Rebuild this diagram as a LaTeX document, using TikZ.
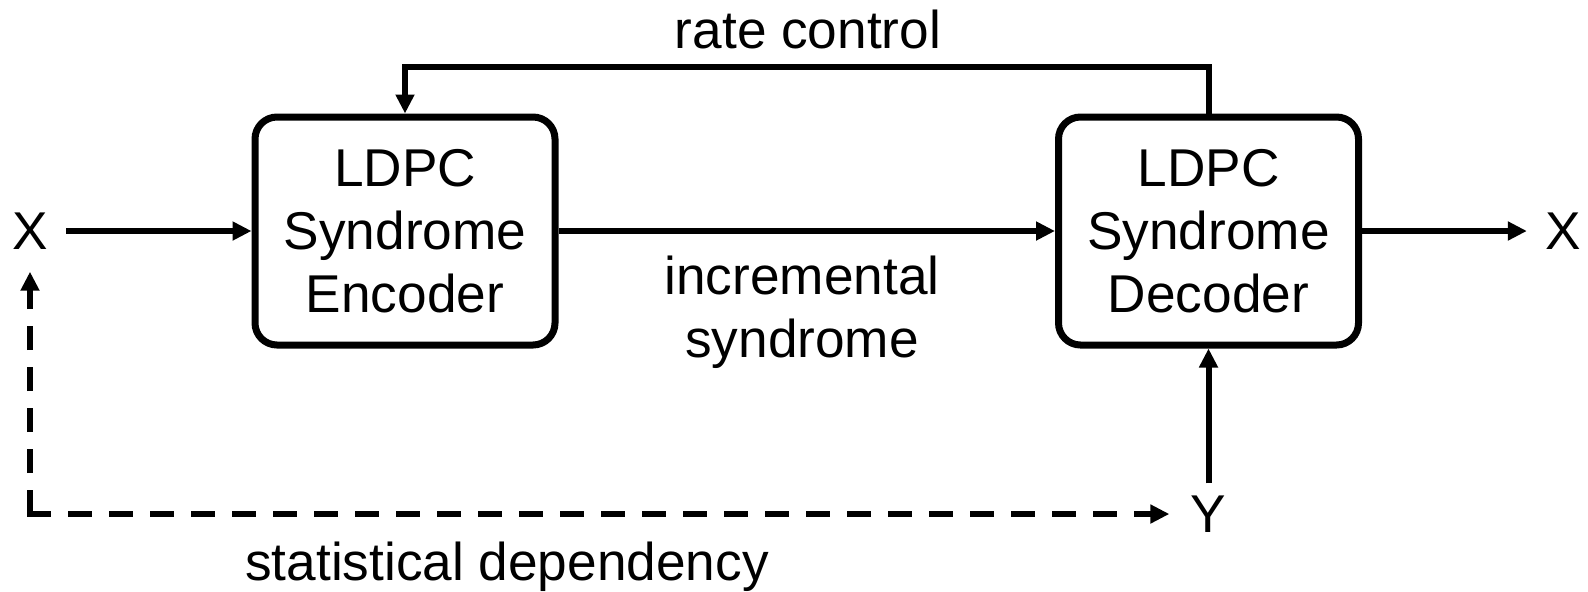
\documentclass[tikz,border=0pt]{standalone}
\usepackage{fontspec}
\setmainfont{Liberation Sans}
\usetikzlibrary{arrows.meta}

\begin{document}
\begin{tikzpicture}[x=0.5pt, y=-0.5pt, >={Triangle[length=9.5pt, width=9pt]},
  font=\fontsize{26.6}{31.5}\selectfont,
  block/.style={draw, line width=3.5pt, rounded corners=11pt, minimum width=150pt,
    minimum height=114pt, inner sep=0pt, align=center},
  signal/.style={inner sep=9pt},
  link/.style={line width=3pt, ->},
  deplink/.style={line width=3pt, ->, dash pattern=on 12pt off 8.5pt}]
  \useasboundingbox (0,0) rectangle (1588,591);
  \node[block] (enc) at (405,231) {LDPC\\Syndrome\\Encoder};
  \node[block] (dec) at (1208.5,231) {LDPC\\Syndrome\\Decoder};
  \node[signal, inner ysep=11pt] (xin) at (30,231) {X};
  \node[signal] (xout) at (1563,231) {X};
  \node[signal, inner xsep=10.5pt, inner ysep=6pt] (yin) at (1208.5,514) {Y};
  \coordinate (rc) at (0,66.5);
  \coordinate (corner) at (30,514);
  \draw[link] (xin) -- (enc);
  \draw[link] (enc) -- (dec);
  \draw[link] (dec) -- (xout);
  \draw[link] (yin) -- (dec);
  \draw[link] (dec.north) -- (dec.north |- rc) -| (enc.north);
  \draw[deplink] (corner) -- (xin);
  \draw[deplink] ([xshift=-1.5pt]corner) -- (yin);
  \node[anchor=base] (rate) at (808,48) {rate control};
  \node[align=center] (incr) at (802,312) {incremental\\syndrome};
  \node[anchor=base] (stat) at (507,580) {statistical dependency};
\end{tikzpicture}
\end{document}
